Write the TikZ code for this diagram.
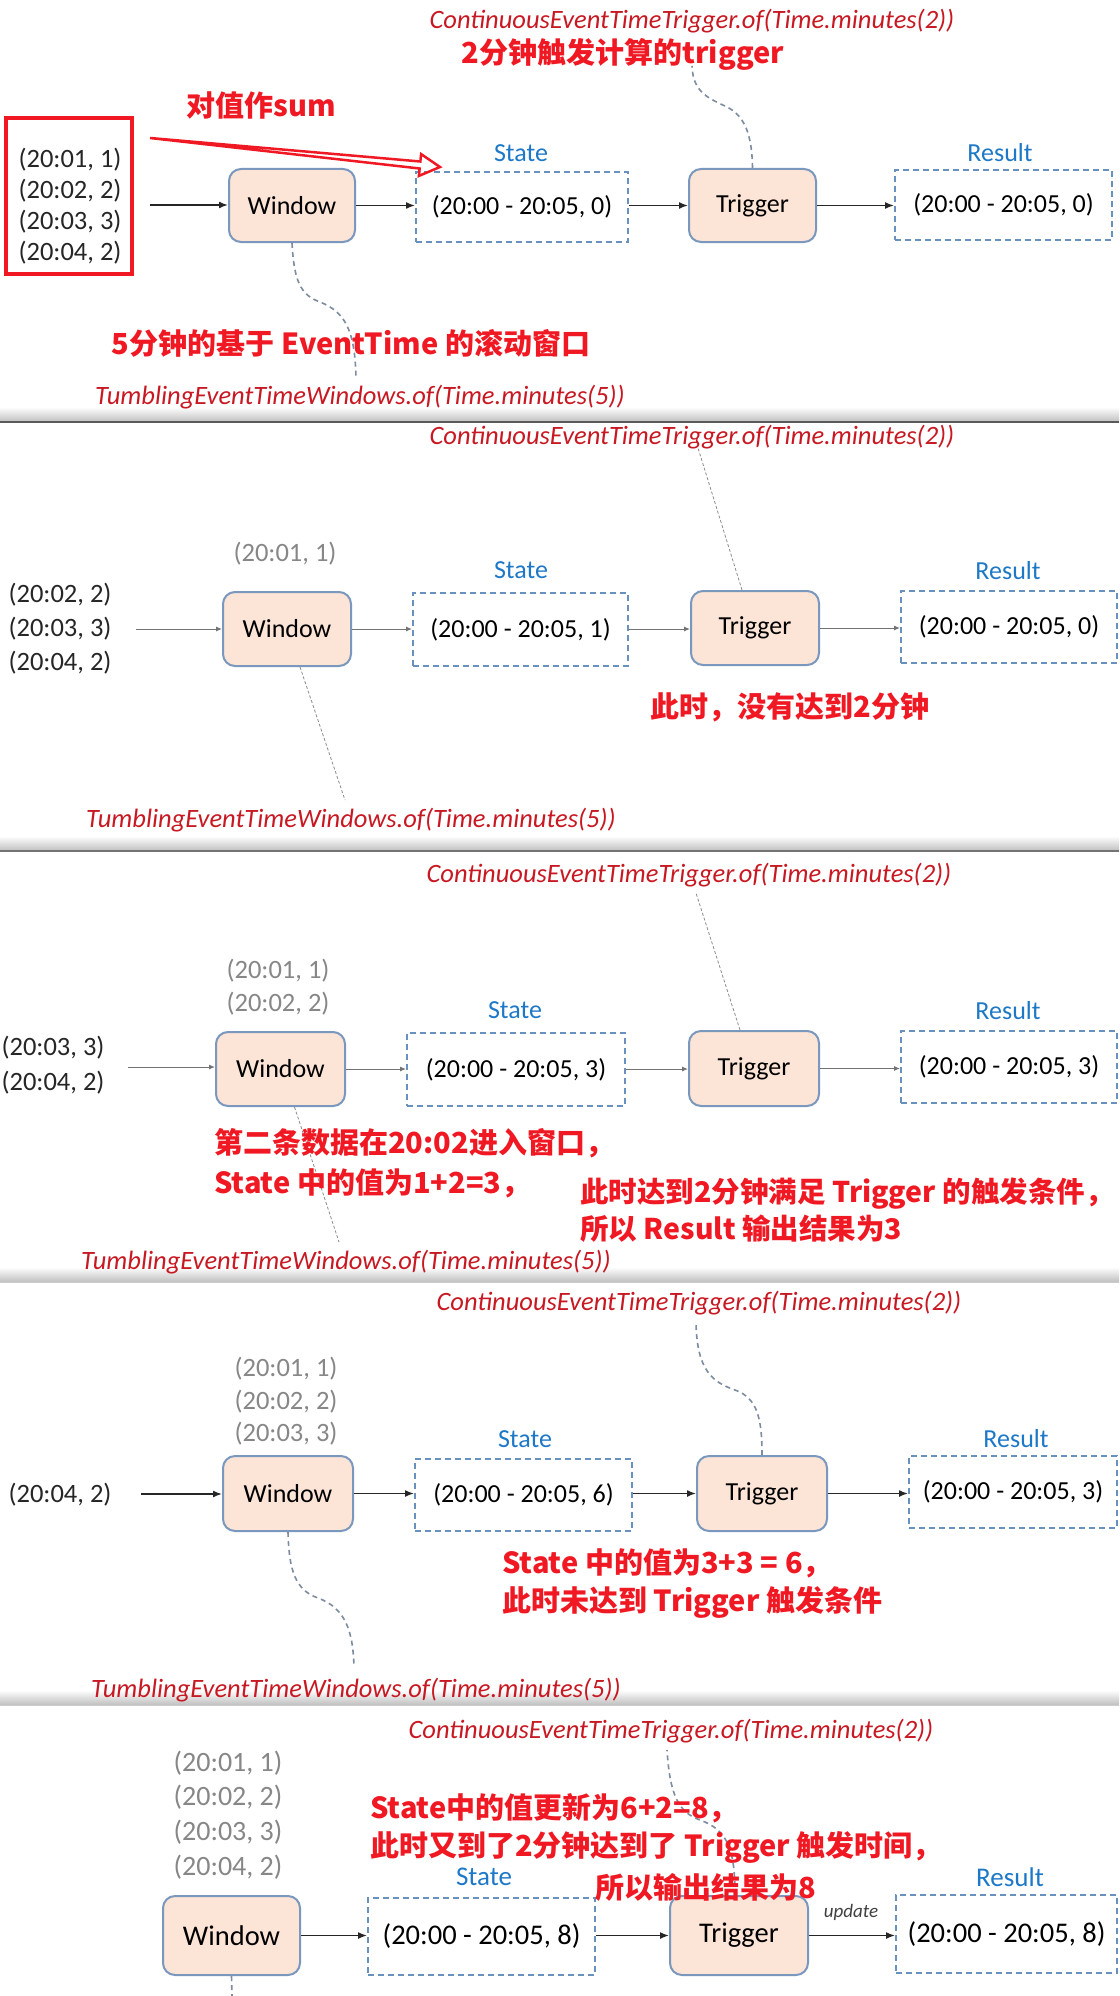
\documentclass[tikz,border=0pt]{standalone}
\usepackage{fontspec}
\setmainfont{Carlito}
\newfontfamily\cjk{Noto Sans CJK SC}
\usetikzlibrary{arrows.meta,calc}
\newcommand\fsz[2]{\fontsize{#1}{#2}\selectfont}
\definecolor{boxfill}{RGB}{252,228,214}
\definecolor{boxline}{RGB}{122,152,190}
\definecolor{dashline}{RGB}{105,145,190}
\definecolor{lblblue}{RGB}{30,120,200}
\definecolor{codered}{RGB}{200,25,35}
\definecolor{notered}{RGB}{240,25,35}
\definecolor{grytxt}{RGB}{135,135,135}
\definecolor{curvecol}{RGB}{125,140,160}
\tikzset{
  op/.style={draw=boxline, fill=boxfill, line width=2pt, rounded corners=12pt, inner sep=0pt, font=\fsz{26}{31}},
  stbox/.style={draw=dashline, line width=2pt, dash pattern=on 6pt off 4pt, inner sep=0pt, font=\fsz{26}{31}},
  lbl/.style={text=lblblue, font=\fsz{26}{31}, inner sep=0pt},
  code/.style={text=codered, font=\itshape\fsz{26.5}{31}, inner sep=0pt},
  note/.style={text=notered, font=\cjk\bfseries\fsz{29}{38}, inner sep=0pt, align=left},
  inp/.style={font=\fsz{26.5}{31}, inner sep=0pt, align=center, text=black!85},
  old/.style={inp, text=grytxt},
  flow/.style={line width=1.5pt, black!85, -{Latex[length=9pt,width=7pt]}},
  flowlt/.style={line width=1pt, black!55, -{Latex[length=6pt,width=5pt]}},
  hint/.style={curvecol, line width=1.6pt, dash pattern=on 5pt off 4pt},
  hintlt/.style={black!45, line width=0.8pt, dash pattern=on 3pt off 2pt},
  sep/.style={top color=white, bottom color=black!25, draw=none},
}
\begin{document}
\begin{tikzpicture}[x=1pt,y=-1pt]
\useasboundingbox (0,0) rectangle (1119,1996);
\fill[white] (0,0) rectangle (1119,1996);
% separators
\foreach \ys in {422,851,1282,1705}{
  \shade[sep] (0,\ys-15) rectangle (1119,\ys);
}
\draw[black!65, line width=1.5pt] (0,422) -- (1119,422);
\draw[black!55, line width=1.2pt] (0,851) -- (1119,851);
\draw[black!20, line width=1pt] (0,1282) -- (1119,1282);
\draw[black!20, line width=1pt] (0,1705) -- (1119,1705);

% ================= Panel 1
\coordinate (c1b) at (692,66);
\coordinate (c1d) at (356,378);
\coordinate (src1) at (150,205);
\node[code] (cet1) at (692,21) {ContinuousEventTimeTrigger.of(Time.minutes(2))};
\node[note] (n1a) at (623,54) {2分钟触发计算的trigger};
\node[note] (n1b) at (261,105) {对值作sum};
\node[draw=notered, line width=4pt, minimum width=126, minimum height=156] (rb1) at (69,196) {};
\node[inp] (in1) at (70,206.5) {(20:01, 1)\\(20:02, 2)\\(20:03, 3)\\(20:04, 2)};
\node[op, minimum width=126, minimum height=73] (win1) at (292,205.5) {Window};
\node[stbox, minimum width=212, minimum height=70] (st1) at (522,207) {(20:00 - 20:05, 0)};
\node[lbl] (stl1) at (521,153) {State};
\node[op, minimum width=127, minimum height=73] (tr1) at (752.5,205.5) {Trigger};
\node[stbox, minimum width=217, minimum height=70] (rs1) at (1003.5,205) {(20:00 - 20:05, 0)};
\node[lbl] (rsl1) at (1000,153) {Result};
\draw[hint] (tr1.north) .. controls (752,135) and (745,115) .. (725,106) .. controls (705,97) and (693,90) .. (c1b);
\draw[hint] (win1.south) .. controls (294,280) and (300,295) .. (320,302) .. controls (345,312) and (355,330) .. (c1d);
\node[note] (n1c) at (351,343) {5分钟的基于 EventTime 的滚动窗口};
\node[code] (tew1) at (360,397) {TumblingEventTimeWindows.of(Time.minutes(5))};
\draw[flow] (src1) -- (src1 -| win1.west);
\draw[flow] (win1.east) -- (win1.east -| st1.west);
\draw[flow] (st1.east |- win1.east) -- (win1.east -| tr1.west);
\draw[flow] (tr1.east) -- (tr1.east -| rs1.west);
\draw[notered, line width=2.5pt, line join=miter] (150,138) -- (420.35,161.5) -- (421.1,154.1) -- (440,167) -- (418.9,175.9) -- (419.65,168.5) -- cycle;

% ================= Panel 2
\coordinate (h2b) at (698,448);
\coordinate (h2d) at (345,800);
\coordinate (src2) at (136,629);
\node[code] (cet2) at (692,437) {ContinuousEventTimeTrigger.of(Time.minutes(2))};
\node[old] (old2) at (285,554) {(20:01, 1)};
\node[inp, font=\fsz{26.5}{34}] (in2) at (60,629) {(20:02, 2)\\(20:03, 3)\\(20:04, 2)};
\node[op, minimum width=128, minimum height=74] (win2) at (287,629) {Window};
\node[stbox, minimum width=215, minimum height=73] (st2) at (520.5,629.5) {(20:00 - 20:05, 1)};
\node[lbl] (stl2) at (521,570) {State};
\node[op, minimum width=128, minimum height=74] (tr2) at (755,628) {Trigger};
\node[stbox, minimum width=216, minimum height=72] (rs2) at (1009,627) {(20:00 - 20:05, 0)};
\node[lbl] (rsl2) at (1008,571) {Result};
\node[note] (n2) at (790,707) {此时，没有达到2分钟};
\node[code] (tew2) at (351,820) {TumblingEventTimeWindows.of(Time.minutes(5))};
\draw[hintlt] ($(tr2.north)+(-13,0)$) -- (h2b);
\draw[hintlt] ($(win2.south)+(13,0)$) -- (h2d);
\draw[flowlt] (src2) -- (src2 -| win2.west);
\draw[flowlt] (win2.east) -- (win2.east -| st2.west);
\draw[flowlt] (st2.east |- win2.east) -- (win2.east -| tr2.west);
\draw[flowlt] (tr2.east) -- (tr2.east -| rs2.west);

% ================= Panel 3
\coordinate (h3b) at (696,893);
\coordinate (h3d) at (339,1242);
\coordinate (src3) at (128,1067);
\node[code] (cet3) at (689,875) {ContinuousEventTimeTrigger.of(Time.minutes(2))};
\node[old, font=\fsz{26.5}{33}] (old3) at (278,987.5) {(20:01, 1)\\(20:02, 2)};
\node[inp, font=\fsz{26.5}{35}] (in3) at (53,1065.5) {(20:03, 3)\\(20:04, 2)};
\node[op, minimum width=129, minimum height=74] (win3) at (280.5,1069) {Window};
\node[stbox, minimum width=218, minimum height=73] (st3) at (516,1069.5) {(20:00 - 20:05, 3)};
\node[lbl] (stl3) at (515,1010) {State};
\node[op, minimum width=130, minimum height=75] (tr3) at (754,1068.5) {Trigger};
\node[stbox, minimum width=216, minimum height=72] (rs3) at (1009,1067) {(20:00 - 20:05, 3)};
\node[lbl] (rsl3) at (1008,1011) {Result};
\draw[hintlt] ($(tr3.north)+(-14,0)$) -- (h3b);
\draw[hintlt] ($(win3.south)+(14,0)$) -- (h3d);
\node[note, anchor=west, font=\cjk\bfseries\fsz{29}{40}] (n3a) at (214,1163) {第二条数据在20:02进入窗口，\\State 中的值为1+2=3，};
\node[note, anchor=west, font=\cjk\bfseries\fsz{28.5}{37}] (n3b) at (580,1210) {此时达到2分钟满足 Trigger 的触发条件，\\所以 Result 输出结果为3};
\node[code] (tew3) at (346,1262) {TumblingEventTimeWindows.of(Time.minutes(5))};
\draw[flowlt] (src3) -- (src3 -| win3.west);
\draw[flowlt] (win3.east) -- (win3.east -| st3.west);
\draw[flowlt] (st3.east |- win3.east) -- (win3.east -| tr3.west);
\draw[flowlt] (tr3.east) -- (tr3.east -| rs3.west);

% ================= Panel 4
\coordinate (c4b) at (696,1323);
\coordinate (c4d) at (354,1667);
\coordinate (src4) at (141,1494);
\node[code] (cet4) at (699,1303) {ContinuousEventTimeTrigger.of(Time.minutes(2))};
\node[old, font=\fsz{26.5}{32.5}] (old4) at (286,1401.5) {(20:01, 1)\\(20:02, 2)\\(20:03, 3)};
\node[inp] (in4) at (60,1495) {(20:04, 2)};
\node[op, minimum width=130, minimum height=75] (win4) at (288,1493.5) {Window};
\node[stbox, minimum width=217, minimum height=72] (st4) at (523.5,1495) {(20:00 - 20:05, 6)};
\node[lbl] (stl4) at (525,1439) {State};
\node[op, minimum width=130, minimum height=75] (tr4) at (762,1493.5) {Trigger};
\node[stbox, minimum width=208, minimum height=72] (rs4) at (1013,1492) {(20:00 - 20:05, 3)};
\node[lbl] (rsl4) at (1016,1439) {Result};
\draw[hint] (tr4.north) .. controls (762,1420) and (758,1398) .. (735,1390) .. controls (712,1382) and (697,1370) .. (c4b);
\draw[hint] (win4.south) .. controls (289,1570) and (295,1590) .. (318,1598) .. controls (345,1608) and (353,1630) .. (c4d);
\node[note, anchor=west] (n4) at (502,1584) {State 中的值为3+3 = 6，\\此时未达到 Trigger 触发条件};
\node[code] (tew4) at (356,1690) {TumblingEventTimeWindows.of(Time.minutes(5))};
\draw[flow] (src4) -- (src4 -| win4.west);
\draw[flow] (win4.east) -- (win4.east -| st4.west);
\draw[flow] (st4.east |- win4.east) -- (win4.east -| tr4.west);
\draw[flow] (tr4.east) -- (tr4.east -| rs4.west);

% ================= Panel 5
\coordinate (c5b) at (667,1750);
\coordinate (c5d) at (232,1996);
\node[code] (cet5) at (671,1731) {ContinuousEventTimeTrigger.of(Time.minutes(2))};
\node[old, font=\fsz{28}{34.7}] (old5) at (228,1815) {(20:01, 1)\\(20:02, 2)\\(20:03, 3)\\(20:04, 2)};
\node[op, font=\fsz{28.5}{33}, minimum width=137, minimum height=79] (win5) at (231.5,1935.5) {Window};
\node[stbox, font=\fsz{28.5}{33}, minimum width=227, minimum height=77] (st5) at (481.5,1936.5) {(20:00 - 20:05, 8)};
\node[lbl, font=\fsz{27}{32}] (stl5) at (484,1877) {State};
\node[op, font=\fsz{28.5}{33}, minimum width=138, minimum height=79] (tr5) at (739,1935.5) {Trigger};
\node[stbox, font=\fsz{28.5}{33}, minimum width=221, minimum height=78] (rs5) at (1006.5,1934) {(20:00 - 20:05, 8)};
\node[lbl, font=\fsz{27}{32}] (rsl5) at (1010,1877) {Result};
\draw[hint] ($(tr5.north)+(-4,0)$) .. controls (735,1850) and (728,1830) .. (700,1820) .. controls (678,1812) and (670,1795) .. (c5b);
\draw[hint] (win5.south) -- (c5d);
\node[note, anchor=west] (n5a) at (370,1828) {State中的值更新为6+2=8，\\此时又到了2分钟达到了 Trigger 触发时间，};
\node[note] (n5b) at (706,1887) {所以输出结果为8};
\node[font=\itshape\fsz{19}{23}, text=black!75, inner sep=0pt] (upd5) at (851,1912) {update};
\draw[flow] (win5.east) -- (win5.east -| st5.west);
\draw[flow] (st5.east |- win5.east) -- (win5.east -| tr5.west);
\draw[flow] (tr5.east) -- (tr5.east -| rs5.west);
\end{tikzpicture}
\end{document}
